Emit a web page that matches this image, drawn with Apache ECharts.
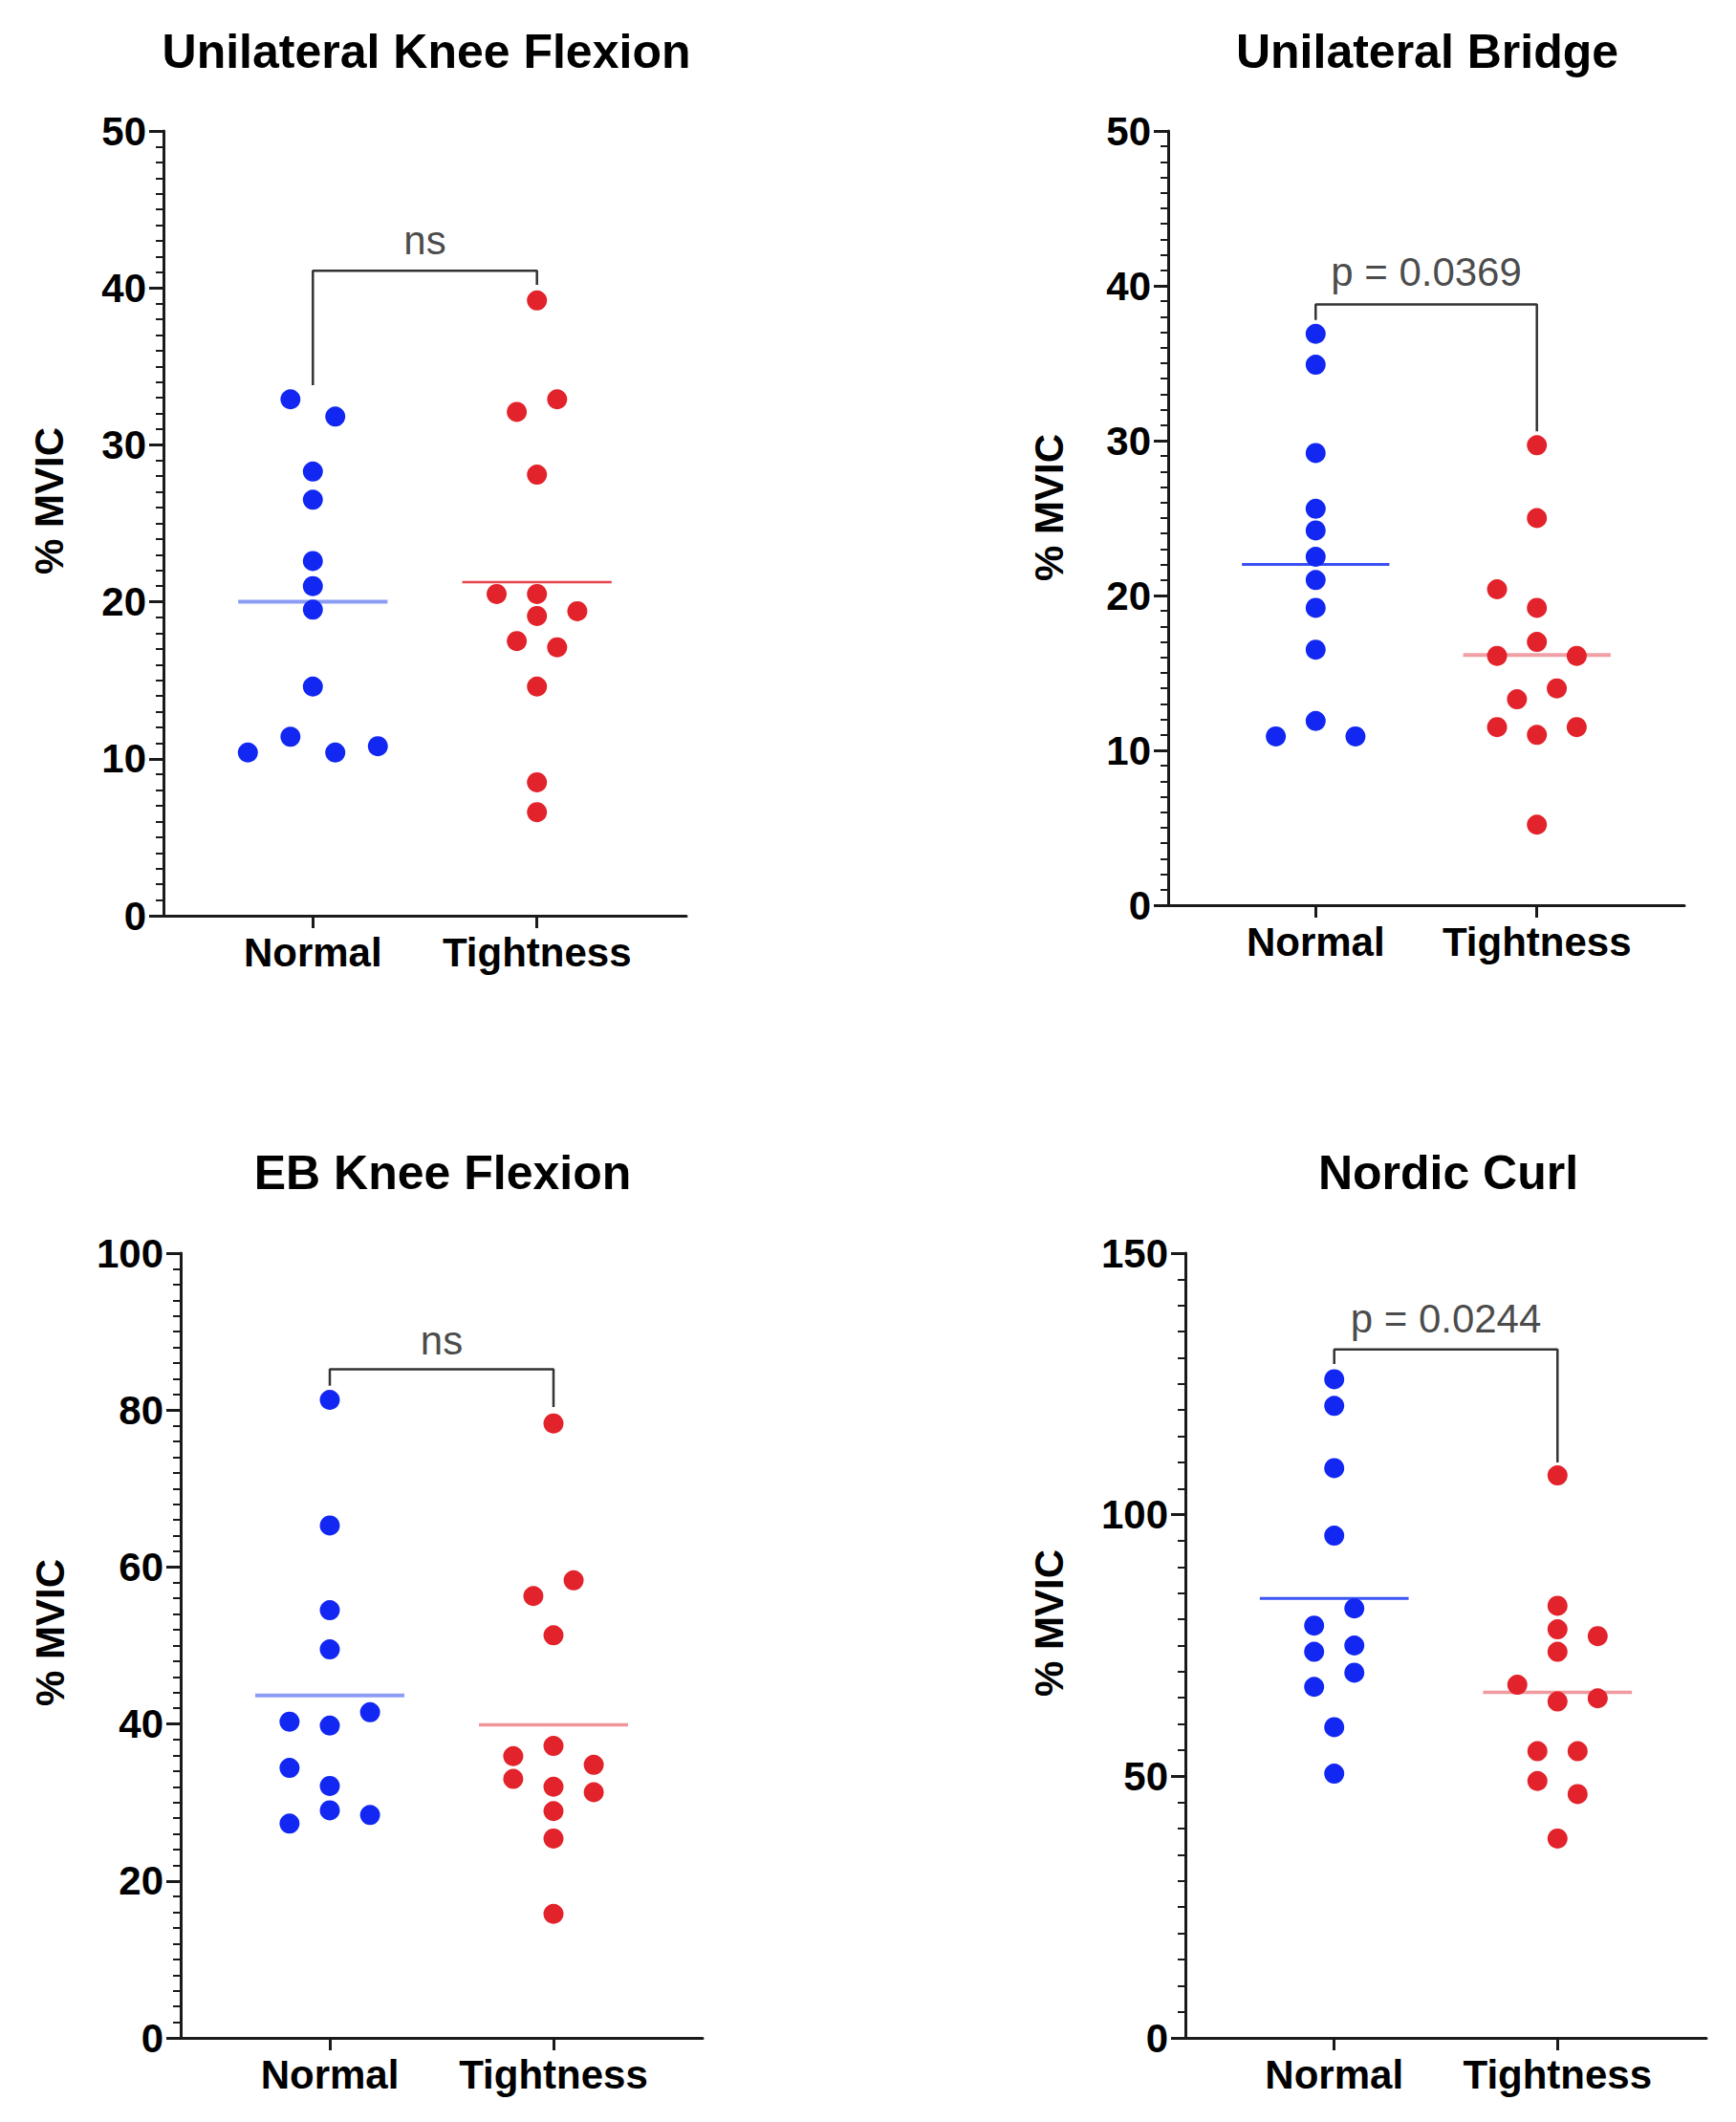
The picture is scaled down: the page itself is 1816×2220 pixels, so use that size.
<!DOCTYPE html>
<html>
<head>
<meta charset="utf-8">
<script src="https://cdn.jsdelivr.net/npm/echarts@6/dist/echarts.min.js"></script>
<style>
html,body{margin:0;padding:0;background:#fff;}
#chart{width:1816px;height:2220px;}
</style>
</head>
<body>
<div id="chart"></div>
<script>
// ---------- data ----------
const categories = ['Normal', 'Tightness'];
const panelTitles = ['Unilateral Knee Flexion', 'Unilateral Bridge', 'EB Knee Flexion', 'Nordic Curl'];
const yAxisName = '% MVIC';
const yAxisMax = [50, 50, 100, 150];
const yAxisStep = [10, 10, 20, 50];

// [x (1 = Normal, 2 = Tightness, with jitter), % MVIC]
const ukfNormal = [[0.9,32.9],[1.1,31.8],[1,28.3],[1,26.5],[1,22.6],[1,21.0],[1,19.5],[1,14.6],[0.9,11.4],[0.71,10.4],[1.1,10.4],[1.29,10.8]];
const ukfTight = [[2,39.2],[2.09,32.9],[1.91,32.1],[2,28.1],[1.82,20.5],[2,20.5],[2,19.1],[2.18,19.4],[1.91,17.5],[2.09,17.1],[2,14.6],[2,8.5],[2,6.6]];
const ubNormal = [[1,36.9],[1,34.9],[1,29.2],[1,25.6],[1,24.2],[1,22.5],[1,21.0],[1,19.2],[1,16.5],[1,11.9],[0.82,10.9],[1.18,10.9]];
const ubTight = [[2,29.7],[2,25.0],[1.82,20.4],[2,19.2],[2,17.0],[1.82,16.1],[2.18,16.1],[2.09,14.0],[1.91,13.3],[1.82,11.5],[2,11.0],[2.18,11.5],[2,5.2]];
const ebNormal = [[1,81.3],[1,65.3],[1,54.5],[1,49.5],[0.82,40.3],[1,39.8],[1.18,41.5],[0.82,34.4],[1,32.1],[1,29.0],[1.18,28.4],[0.82,27.3]];
const ebTight = [[2,78.3],[2.09,58.3],[1.91,56.3],[2,51.3],[2,37.2],[1.82,35.9],[2.18,34.8],[1.82,33.0],[2,32.0],[2.18,31.3],[2,28.9],[2,25.4],[2,15.8]];
const ncNormal = [[1,125.9],[1,120.8],[1,108.9],[1,96.0],[1.09,82.1],[0.91,78.8],[0.91,73.8],[1.09,75.0],[1.09,69.8],[0.91,67.1],[1,59.4],[1,50.5]];
const ncTight = [[2,107.5],[2,82.6],[2,78.1],[2.18,76.8],[2,73.8],[1.82,67.5],[2,64.3],[2.18,64.9],[1.91,54.8],[2.09,54.8],[1.91,49.1],[2.09,46.6],[2,38.1]];

// group means [Normal, Tightness]
const means = [[20.0, 21.25], [22.0, 16.15], [43.65, 39.9], [84.0, 66.05]];
// significance brackets: [left foot, top, right foot], label y, text
const bracketLevels = [[33.8, 41.1, 40.2], [37.8, 38.8, 30.6], [83.1, 85.2, 80.4], [128.8, 131.6, 110.0]];
const bracketLabelY = [43.0, 40.9, 88.8, 137.5];
const bracketText = ['ns', 'p = 0.0369', 'ns', 'p = 0.0244'];

const panelNormal = [ukfNormal, ubNormal, ebNormal, ncNormal];
const panelTight = [ukfTight, ubTight, ebTight, ncTight];

// ---------- layout / style ----------
const grids = [
  {left:171, top:137, width:547, height:821},
  {left:1222, top:137, width:540, height:810},
  {left:189, top:1311, width:546, height:821},
  {left:1240, top:1311, width:545, height:821}
];
const titlePos = [[446, 54], [1493, 54], [463, 1227], [1515, 1227]];
const yNamePos = [[51, 524], [1097, 531], [52, 1708], [1097, 1698]];
const meanColors = [['#8c9cf5', '#e8464e'], ['#3a50f5', '#f0a0a4'], ['#8c9cf5', '#f0959b'], ['#3a55f5', '#f0999f']];
const meanWidths = [[4, 2.5], [3, 4], [4, 3.5], [3, 3.5]];
const blue = '#1228f2';
const red = '#e2232b';
const axisColor = '#1a1a1a';
const fontFamily = '"Liberation Sans", Arial, Helvetica, sans-serif';

const graphics = [];
panelTitles.forEach((t, i) => graphics.push({
  type: 'text', x: titlePos[i][0], y: titlePos[i][1],
  style: {text: t, fill: '#000', font: 'bold 50px ' + fontFamily, align: 'center', verticalAlign: 'middle'}
}));
yNamePos.forEach(p => graphics.push({
  type: 'text', x: p[0], y: p[1], rotation: Math.PI / 2,
  style: {text: yAxisName, fill: '#000', font: 'bold 42px ' + fontFamily, align: 'center', verticalAlign: 'middle'}
}));

const option = {
  animation: false,
  backgroundColor: '#fff',
  grid: grids.map(g => Object.assign({containLabel:false}, g)),
  xAxis: [], yAxis: [], series: [],
  graphic: graphics
};

for (let i = 0; i < 4; i++) {
  option.xAxis.push({
    type: 'value', gridIndex: i, min: 1/3, max: 8/3,
    axisLine: {show: true, lineStyle: {color: axisColor, width: 3}},
    axisTick: {show: true, length: 13, lineStyle: {color: axisColor, width: 3}, customValues: [1, 2]},
    axisLabel: {show: true, customValues: [1, 2], margin: 17,
      formatter: v => categories[Math.round(v) - 1] || '',
      color: '#000', fontSize: 42, fontWeight: 'bold', fontFamily: fontFamily},
    splitLine: {show: false}
  });
  option.yAxis.push({
    type: 'value', gridIndex: i, min: 0, max: yAxisMax[i], interval: yAxisStep[i],
    axisLine: {show: true, lineStyle: {color: axisColor, width: 3}},
    axisTick: {show: true, length: 15, lineStyle: {color: axisColor, width: 3}},
    minorTick: {show: true, splitNumber: 10, length: 8, lineStyle: {color: axisColor, width: 2}},
    axisLabel: {color: '#000', fontSize: 42, fontWeight: 'bold', fontFamily: fontFamily, margin: 18},
    splitLine: {show: false}, minorSplitLine: {show: false}
  });
  // mean lines
  option.series.push({
    type: 'line', xAxisIndex: i, yAxisIndex: i, symbol: 'none', z: 1,
    lineStyle: {color: meanColors[i][0], width: meanWidths[i][0]},
    data: [[2/3, means[i][0]], [4/3, means[i][0]]]
  });
  option.series.push({
    type: 'line', xAxisIndex: i, yAxisIndex: i, symbol: 'none', z: 1,
    lineStyle: {color: meanColors[i][1], width: meanWidths[i][1]},
    data: [[5/3, means[i][1]], [7/3, means[i][1]]]
  });
  // points
  option.series.push({
    type: 'scatter', xAxisIndex: i, yAxisIndex: i, symbolSize: 21, z: 3,
    itemStyle: {color: blue, opacity: 1}, data: panelNormal[i]
  });
  option.series.push({
    type: 'scatter', xAxisIndex: i, yAxisIndex: i, symbolSize: 21, z: 3,
    itemStyle: {color: red, opacity: 1}, data: panelTight[i]
  });
  // bracket
  const b = bracketLevels[i];
  option.series.push({
    type: 'line', xAxisIndex: i, yAxisIndex: i, symbol: 'none', z: 2,
    lineStyle: {color: '#333', width: 2.5},
    data: [[1, b[0]], [1, b[1]], [2, b[1]], [2, b[2]]]
  });
  option.series.push({
    type: 'scatter', xAxisIndex: i, yAxisIndex: i, symbolSize: 1, z: 4,
    itemStyle: {color: 'rgba(0,0,0,0)'},
    label: {show: true, position: 'inside', formatter: bracketText[i],
      color: '#1a1a1a', fontSize: 42, fontFamily: fontFamily},
    data: [[1.5, bracketLabelY[i]]]
  });
}

const chart = echarts.init(document.getElementById('chart'), null, {renderer: 'svg'});
chart.setOption(option);
</script>
</body>
</html>
